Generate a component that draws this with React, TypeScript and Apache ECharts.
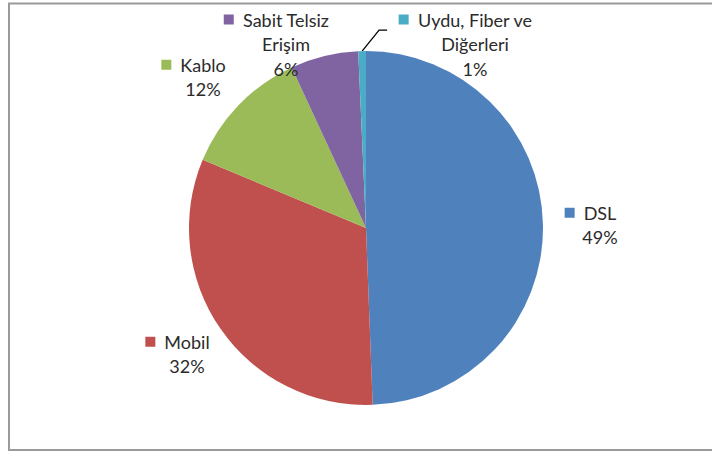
import React, { useEffect, useRef } from "react";
import * as echarts from "echarts";

const categories = ["DSL", "Mobil", "Kablo", "Sabit Telsiz\nErişim", "Uydu, Fiber ve\nDiğerleri"];
const values = [49.4, 31.9, 11.8, 6.2, 0.7];
const colors = ["#4F81BD", "#C0504D", "#9BBB59", "#8064A2", "#4BACC6"];

// label block centres (text centre) in px
const labelX = [600, 187, 203, 286, 475];
const labelY = [225, 354, 77, 44, 44];

const CENTER = [366, 228];
const RADIUS = 177;

export default function App() {
  const ref = useRef<HTMLDivElement>(null);
  useEffect(() => {
    if (!ref.current) return;
    const chart = echarts.init(ref.current, null, { renderer: "svg" });
    const rich: any = {
      g: { width: 9 },
      pad: { width: 19 },
      t: { fontSize: 18, lineHeight: 24.5, color: "#2b2b2b", fontFamily: "Lato" },
    };
    colors.forEach((c, i) => {
      rich["sq" + i] = { width: 10, height: 10, backgroundColor: c };
    });
    const total = values.reduce((a, b) => a + b, 0);
    const fmt = (p: any) => {
      const lines = String(p.name).split("\n");
      const first = `{sq${p.dataIndex}| }{g| }{t|${lines[0]}}{pad| }`;
      const rest = lines.slice(1).map((l) => `{t|${l}}`);
      return [first, ...rest, `{t|${Math.round(p.percent)}%}`].join("\n");
    };
    chart.setOption({
      animation: false,
      backgroundColor: "#fff",
      graphic: [
        {
          type: "rect",
          shape: { x: 9, y: 3.5, width: 760, height: 446.5 },
          style: { fill: "none", stroke: "#9a9a9a", lineWidth: 2 },
          silent: true,
        },
      ],
      series: [
        {
          type: "pie",
          center: CENTER,
          radius: RADIUS,
          startAngle: 90,
          clockwise: true,
          color: colors,
          label: {
            show: true,
            position: "outside",
            formatter: fmt,
            rich,
            align: "center",
            lineHeight: 24.5,
            fontSize: 18,
            fontFamily: "Lato",
            color: "#2b2b2b",
          },
          labelLine: { show: false },
          labelLayout: (params: any) => {
            const i = params.dataIndex;
            const out: any = {
              x: labelX[i],
              y: labelY[i],
              align: "center",
              verticalAlign: "middle",
            };
            if (i === 4) {
              let cum = 0;
              for (let k = 0; k < i; k++) cum += values[k];
              const mid = ((cum + values[i] / 2) / total) * Math.PI * 2;
              const sx = CENTER[0] + Math.sin(mid) * RADIUS;
              const sy = CENTER[1] - Math.cos(mid) * RADIUS;
              out.labelLinePoints = [
                [sx, sy],
                [sx + 17, sy - 21],
                [sx + 25, sy - 21],
              ];
            }
            return out;
          },
          data: categories.map((n, i) => ({
            name: n,
            value: values[i],
            ...(i === 4
              ? { labelLine: { show: true, length: 12, length2: 8, lineStyle: { color: "#000", width: 1.3 } } }
              : {}),
          })),
        },
      ],
    });
    return () => chart.dispose();
  }, []);
  return (
    <div
      ref={ref}
      style={{ position: "absolute", left: 0, top: 0, width: 712, height: 452 }}
    />
  );
}
